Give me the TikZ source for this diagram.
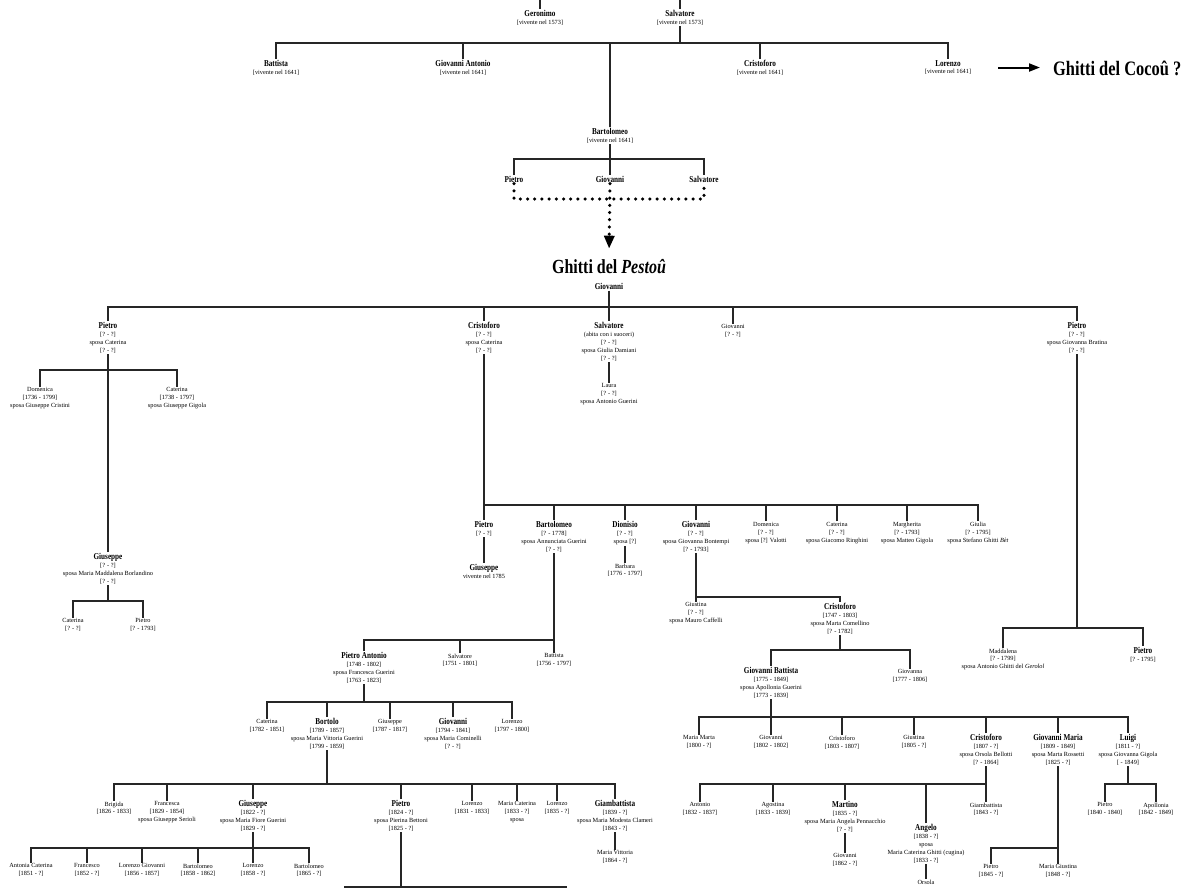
\documentclass[tikz,border=0pt]{standalone}
\usepackage{fontspec}
\setmainfont{Liberation Serif}
\newfontfamily\namefont[FakeStretch=0.8]{Liberation Serif}
\usetikzlibrary{arrows.meta}
\newcommand{\nm}[1]{{\namefont\bfseries\fontsize{9}{8}\selectfont #1}}
\newcommand{\yr}[1]{{[#1]}}
\tikzset{
per/.style={anchor=north, align=center, inner sep=1pt, font=\fontsize{6.3}{7.9}\selectfont},
rel/.style={line width=1.2pt, draw=black!85},
dots/.style={line width=3.5pt, line cap=round, dash pattern=on 0pt off 7.2pt},
title/.style={inner sep=1pt, font=\namefont\bfseries\fontsize{20}{22}\selectfont},
}

\begin{document}
\begin{tikzpicture}[x=1pt, y=-1pt]
\useasboundingbox (0,0) rectangle (1200,888);
\clip (0,0) rectangle (1200,888);

% oldest generations
\coordinate (gtop) at (540,0);
\coordinate (stop) at (680,0);
\node[per] (ger) at (540,9) {\nm{Geronimo}\\\yr{vivente nel 1573}};
\node[per] (salv0) at (680,9) {\nm{Salvatore}\\\yr{vivente nel 1573}};
\draw[rel] (gtop) -- (ger.north);
\draw[rel] (stop) -- (salv0.north);

\coordinate (j1) at (680,43);
\node[per] (bat) at (276,59) {\nm{Battista}\\\yr{vivente nel 1641}};
\node[per] (gant) at (463,59) {\nm{Giovanni Antonio}\\\yr{vivente nel 1641}};
\node[per] (cri0) at (760,59) {\nm{Cristoforo}\\\yr{vivente nel 1641}};
\node[per] (lor0) at (948,59) {\nm{Lorenzo}\\\yr{vivente nel 1641}};
\node[per] (bart) at (610,127) {\nm{Bartolomeo}\\\yr{vivente nel 1641}};
\draw[rel] (salv0.south) -- (j1);
\draw[rel] (bat.north) |- (j1) -| (lor0.north);
\foreach \ch in {gant,cri0,bart}
  \draw[rel] (\ch.north) -- (\ch.north |- j1);

\node[title, anchor=base west, font=\namefont\bfseries\fontsize{20.5}{22}\selectfont] (cocou) at (1052,76) {Ghitti del Cocoû ?};
\draw[line width=2pt, -{Triangle[length=11pt,width=8pt]}, shorten <=26pt, shorten >=12pt] (lor0.east) -- (lor0.east -| cocou.west);

% Bartolomeo's sons
\coordinate (j2) at (610,159);
\node[per] (pie) at (514,175) {\nm{Pietro}};
\node[per] (gio1) at (610,175) {\nm{Giovanni}};
\node[per] (sal1) at (704,175) {\nm{Salvatore}};
\draw[rel] (bart.south) -- (gio1.north);
\draw[rel] (pie.north) |- (j2) -| (sal1.north);
\coordinate (d1) at (610,199);
\draw[dots] (pie.south) |- (d1) -| (sal1.south);

\node[title, anchor=base] (pest) at (609,273) {Ghitti del \textit{Pestoû}};
\draw[dots, -{Triangle[length=13pt,width=10pt]}, shorten >=9pt] (gio1.south) -- (pest.north);

% Giovanni
\node[per] (gio2) at (609,282) {\nm{Giovanni}};
\coordinate (j3) at (609,307);
\node[per] (pie2) at (108,321) {\nm{Pietro}\\\yr{? - ?}\\sposa Caterina\\\yr{? - ?}};
\node[per] (cri2) at (484,321) {\nm{Cristoforo}\\\yr{? - ?}\\sposa Caterina\\\yr{? - ?}};
\node[per] (sal2) at (609,321) {\nm{Salvatore}\\(abita con i suoceri)\\\yr{? - ?}\\sposa Giulia Damiani\\\yr{? - ?}};
\node[per] (gio3) at (733,323.5) {Giovanni\\\yr{? - ?}};
\node[per] (pie3) at (1077,321) {\nm{Pietro}\\\yr{? - ?}\\sposa Giovanna Bratina\\\yr{? - ?}};
\draw[rel] (gio2.south) -- (sal2.north);
\draw[rel] (pie2.north) |- (j3) -| (pie3.north);
\foreach \ch in {cri2,gio3}
  \draw[rel] (\ch.north) -- (\ch.north |- j3);

\node[per] (lau) at (609,382.5) {Laura\\\yr{? - ?}\\sposa Antonio Guerini};
\draw[rel] (sal2.south) -- (lau.north);

% line of Pietro (left)
\coordinate (j4) at (108,370);
\node[per] (dom) at (40,386.5) {Domenica\\\yr{1736 - 1799}\\sposa Giuseppe Cristini};
\node[per] (cat) at (177,386.5) {Caterina\\\yr{1738 - 1797}\\sposa Giuseppe Gigola};
\node[per] (giu) at (108,552) {\nm{Giuseppe}\\\yr{? - ?}\\sposa Maria Maddalena Borlandino\\\yr{? - ?}};
\draw[rel] (pie2.south) -- (giu.north);
\draw[rel] (dom.north) |- (j4) -| (cat.north);
\coordinate (j5) at (108,601);
\node[per] (cat2) at (73,617.5) {Caterina\\\yr{? - ?}};
\node[per] (pie4) at (143,617.5) {Pietro\\\yr{? - 1793}};
\draw[rel] (giu.south) -- (j5);
\draw[rel] (cat2.north) |- (j5) -| (pie4.north);

% line of Pietro (right)
\coordinate (j13) at (1077,628);
\node[per] (mad) at (1003,647.5) {Maddalena\\\yr{? - 1799}\\sposa Antonio Ghitti del \textit{Gerolol}};
\node[per] (pie6) at (1143,646) {\nm{Pietro}\\\yr{? - 1795}};
\draw[rel] (pie3.south) -- (j13);
\draw[rel] (mad.north) |- (j13) -| (pie6.north);

% line of Cristoforo
\coordinate (j6) at (484,505);
\node[per] (pie5) at (484,520) {\nm{Pietro}\\\yr{? - ?}};
\node[per] (bar5) at (554,520) {\nm{Bartolomeo}\\\yr{? - 1778}\\sposa Annunciata Guerini\\\yr{? - ?}};
\node[per] (dio) at (625,520) {\nm{Dionisio}\\\yr{? - ?}\\sposa \yr{?}};
\node[per] (gio4) at (696,520) {\nm{Giovanni}\\\yr{? - ?}\\sposa Giovanna Bontempi\\\yr{? - 1793}};
\node[per] (dom2) at (766,521) {Domenica\\\yr{? - ?}\\sposa \yr{?} Valotti};
\node[per] (cat3) at (837,521) {Caterina\\\yr{? - ?}\\sposa Giacomo Ringhini};
\node[per] (mar) at (907,521) {Margherita\\\yr{? - 1793}\\sposa Matteo Gigola};
\node[per] (giul) at (978,521) {Giulia\\\yr{? - 1795}\\sposa Stefano Ghitti \textit{Bèt}};
\draw[rel] (cri2.south) -- (pie5.north);
\draw[rel] (j6) -| (giul.north);
\foreach \ch in {bar5,dio,gio4,dom2,cat3,mar}
  \draw[rel] (\ch.north) -- (\ch.north |- j6);

\node[per] (giu2) at (484,563) {\nm{Giuseppe}\\vivente nel 1785};
\draw[rel] (pie5.south) -- (giu2.north);
\node[per] (barb) at (625,562.5) {Barbara\\\yr{1776 - 1797}};
\draw[rel] (dio.south) -- (barb.north);

% Bartolomeo's branch
\coordinate (j14) at (554,640);
\node[per] (pa) at (364,651) {\nm{Pietro Antonio}\\\yr{1748 - 1802}\\sposa Francesca Guerini\\\yr{1763 - 1823}};
\node[per] (sal3) at (460,652.5) {Salvatore\\\yr{1751 - 1801}};
\node[per] (bat2) at (554,652.5) {Battista\\\yr{1756 - 1797}};
\draw[rel] (bar5.south) -- (bat2.north);
\draw[rel] (pa.north) |- (j14);
\draw[rel] (sal3.north) -- (sal3.north |- j14);

\coordinate (j15) at (364,702);
\node[per] (cat4) at (267,718.5) {Caterina\\\yr{1782 - 1851}};
\node[per] (bor) at (327,717) {\nm{Bortolo}\\\yr{1789 - 1857}\\sposa Maria Vittoria Guerini\\\yr{1799 - 1859}};
\node[per] (giu3) at (390,718.5) {Giuseppe\\\yr{1787 - 1817}};
\node[per] (gio5) at (453,717) {\nm{Giovanni}\\\yr{1794 - 1841}\\sposa Maria Cominelli\\\yr{? - ?}};
\node[per] (lor1) at (512,718.5) {Lorenzo\\\yr{1797 - 1800}};
\draw[rel] (pa.south) -- (j15);
\draw[rel] (cat4.north) |- (j15) -| (lor1.north);
\foreach \ch in {bor,giu3,gio5}
  \draw[rel] (\ch.north) -- (\ch.north |- j15);

\coordinate (j16) at (327,784);
\node[per] (bri) at (114,800.5) {Brigida\\\yr{1826 - 1833}};
\node[per] (fra) at (167,800.5) {Francesca\\\yr{1829 - 1854}\\sposa Giuseppe Serioli};
\node[per] (giu4) at (253,799) {\nm{Giuseppe}\\\yr{1822 - ?}\\sposa Maria Fiore Guerini\\\yr{1829 - ?}};
\node[per] (pie7) at (401,799) {\nm{Pietro}\\\yr{1824 - ?}\\sposa Pierina Bettoni\\\yr{1825 - ?}};
\node[per] (lor2) at (472,800.5) {Lorenzo\\\yr{1831 - 1833}};
\node[per] (mca) at (517,800.5) {Maria Caterina\\\yr{1833 - ?}\\sposa};
\node[per] (lor3) at (557,800.5) {Lorenzo\\\yr{1835 - ?}};
\node[per] (gba) at (615,799) {\nm{Giambattista}\\\yr{1839 - ?}\\sposa Maria Modesta Clameri\\\yr{1843 - ?}};
\draw[rel] (bor.south) -- (j16);
\draw[rel] (bri.north) |- (j16) -| (gba.north);
\foreach \ch in {fra,giu4,pie7,lor2,mca,lor3}
  \draw[rel] (\ch.north) -- (\ch.north |- j16);

\node[per] (mvi) at (615,849.5) {Maria Vittoria\\\yr{1864 - ?}};
\draw[rel] (gba.south) -- (mvi.north);

\coordinate (j17) at (253,848);
\node[per] (ac) at (31,862.5) {Antonia Caterina\\\yr{1851 - ?}};
\node[per] (frc) at (87,862.5) {Francesco\\\yr{1852 - ?}};
\node[per] (lgi) at (142,862.5) {Lorenzo Giovanni\\\yr{1856 - 1857}};
\node[per] (bar6) at (198,862.5) {Bartolomeo\\\yr{1858 - 1862}};
\node[per] (lor4) at (253,862.5) {Lorenzo\\\yr{1858 - ?}};
\node[per] (bar7) at (309,862.5) {Bartolomeo\\\yr{1865 - ?}};
\draw[rel] (giu4.south) -- (lor4.north);
\draw[rel] (ac.north) |- (j17) -| (bar7.north);
\foreach \ch in {frc,lgi,bar6}
  \draw[rel] (\ch.north) -- (\ch.north |- j17);

\coordinate (j18) at (401,887);
\coordinate (b18l) at (344,887);
\coordinate (b18r) at (567,887);
\draw[rel] (pie7.south) -- (j18);
\draw[rel] (b18l) -- (b18r);

% Giovanni's branch
\coordinate (j7) at (696,597);
\node[per] (gius) at (696,601.5) {Giustina\\\yr{? - ?}\\sposa Mauro Caffelli};
\node[per] (cri3) at (840,602) {\nm{Cristoforo}\\\yr{1747 - 1803}\\sposa Marta Comellino\\\yr{? - 1782}};
\draw[rel] (gio4.south) -- (gius.north);
\draw[rel] (j7) -| (cri3.north);

\coordinate (j8) at (840,650);
\node[per] (gb) at (771,666) {\nm{Giovanni Battista}\\\yr{1775 - 1849}\\sposa Apollonia Guerini\\\yr{1773 - 1839}};
\node[per] (gna) at (910,668.5) {Giovanna\\\yr{1777 - 1806}};
\draw[rel] (cri3.south) -- (j8);
\draw[rel] (gb.north) |- (j8) -| (gna.north);

\coordinate (j9) at (771,717);
\node[per] (mm) at (699,734.5) {Maria Marta\\\yr{1800 - ?}};
\node[per] (gio6) at (771,734.5) {Giovanni\\\yr{1802 - 1802}};
\node[per] (cr4) at (842,734.5) {Cristoforo\\\yr{1803 - 1807}};
\node[per] (gst) at (914,734.5) {Giustina\\\yr{1805 - ?}};
\node[per] (cr5) at (986,733) {\nm{Cristoforo}\\\yr{1807 - ?}\\sposa Orsola Bellotti\\\yr{? - 1864}};
\node[per] (gm) at (1058,733) {\nm{Giovanni Maria}\\\yr{1809 - 1849}\\sposa Marta Rossetti\\\yr{1825 - ?}};
\node[per] (lui) at (1128,733) {\nm{Luigi}\\\yr{1811 - ?}\\sposa Giovanna Gigola\\\yr{ - 1849}};
\draw[rel] (gb.south) -- (gio6.north);
\draw[rel] (mm.north) |- (j9) -| (lui.north);
\foreach \ch in {cr4,gst,cr5,gm}
  \draw[rel] (\ch.north) -- (\ch.north |- j9);

\coordinate (j10) at (986,784);
\node[per] (ant) at (700,801.5) {Antonio\\\yr{1832 - 1837}};
\node[per] (ago) at (773,801.5) {Agostina\\\yr{1833 - 1839}};
\node[per] (mrt) at (845,800) {\nm{Martino}\\\yr{1835 - ?}\\sposa Maria Angela Pennacchio\\\yr{? - ?}};
\node[per] (ang) at (926,823) {\nm{Angelo}\\\yr{1838 - ?}\\sposa\\Maria Caterina Ghitti (cugina)\\\yr{1833 - ?}};
\node[per] (gbt) at (986,801.5) {Giambattista\\\yr{1843 - ?}};
\draw[rel] (cr5.south) -- (gbt.north);
\draw[rel] (ant.north) |- (j10);
\foreach \ch in {ago,mrt,ang}
  \draw[rel] (\ch.north) -- (\ch.north |- j10);

\node[per] (gio7) at (845,852.5) {Giovanni\\\yr{1862 - ?}};
\draw[rel] (mrt.south) -- (gio7.north);
\node[per] (ors) at (926,878.5) {Orsola};
\draw[rel] (ang.south) -- (ors.north);

\coordinate (j11) at (1058,848);
\node[per] (pie8) at (991,863.5) {Pietro\\\yr{1845 - ?}};
\node[per] (mgi) at (1058,863.5) {Maria Giustina\\\yr{1848 - ?}};
\draw[rel] (gm.south) -- (mgi.north);
\draw[rel] (pie8.north) |- (j11);

\coordinate (j12) at (1128,784);
\node[per] (pie9) at (1105,801.5) {Pietro\\\yr{1840 - 1840}};
\node[per] (apo) at (1156,801.5) {Apollonia\\\yr{1842 - 1849}};
\draw[rel] (lui.south) -- (j12);
\draw[rel] (pie9.north) |- (j12) -| (apo.north);
\end{tikzpicture}
\end{document}
